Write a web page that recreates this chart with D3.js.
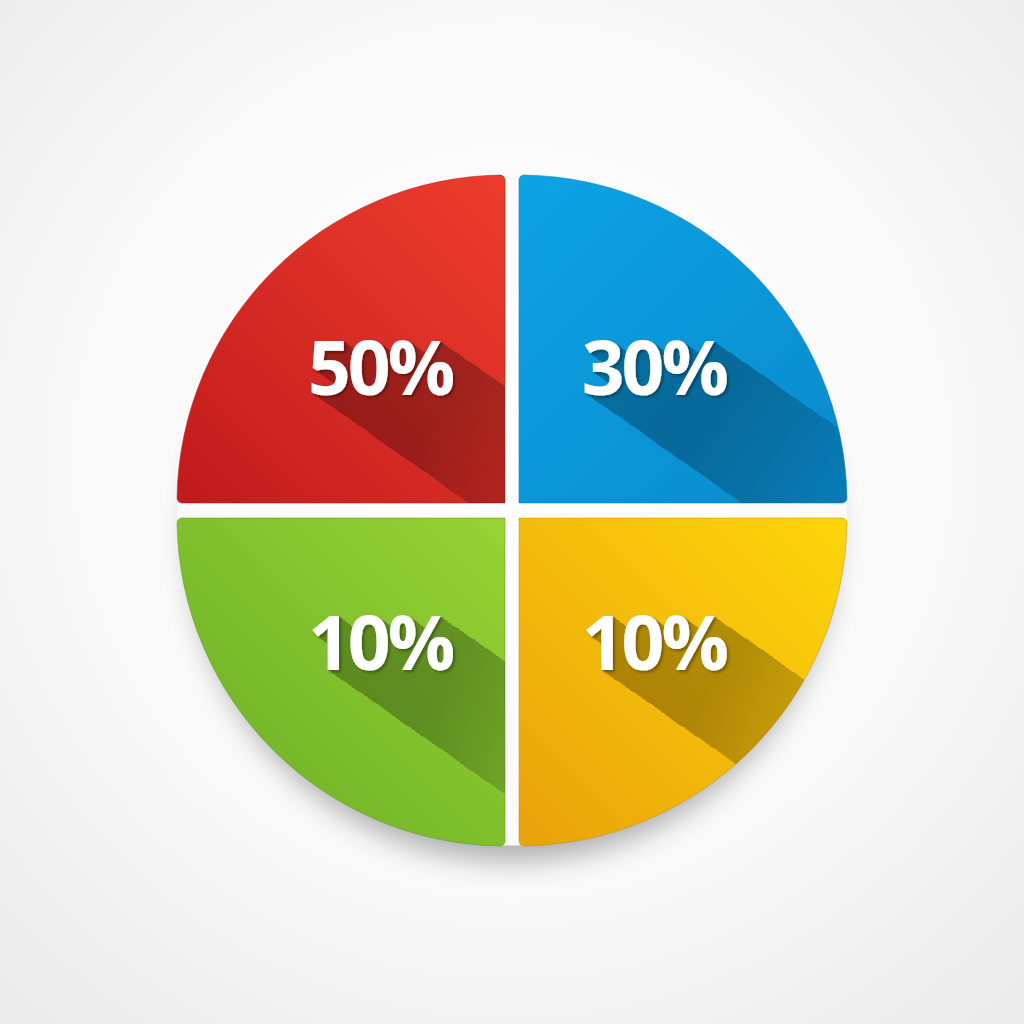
<!DOCTYPE html>
<html>
<head>
<meta charset="utf-8">
<script src="https://cdn.jsdelivr.net/npm/d3@7"></script>
<style>
  html, body { margin: 0; padding: 0; background: #f4f4f4; }
  svg { display: block; }
</style>
</head>
<body>
<div id="chart"></div>
<script>
// quadrants go clockwise starting at the top-left one
const quadrants = ['top-left', 'top-right', 'bottom-right', 'bottom-left']
const shares = [50, 30, 10, 10]
const labels = ['50%', '30%', '10%', '10%']

// [light, dark] per quadrant
const palette = [
  ['#ee3d2d', '#c11a1d'],
  ['#0ca3e4', '#0a8acd'],
  ['#fed60b', '#e9a20b'],
  ['#97d334', '#68ad25']
]
// gradient direction (light corner -> dark corner) in bounding box units
const gradDir = [
  [1, 0, 0, 1],
  [0, 0, 1, 1],
  [1, 0, 0, 1],
  [1, 0, 0, 1]
]

const width = 1024
const height = 1024
const cx = 512
const cy = 510.5
const radius = 328
const gapX = 7
const gapY = 7.5
const shadowDir = [1, 0.7]
const fadeLen = 190

const svg = d3.select('#chart').append('svg')
  .attr('width', width)
  .attr('height', height)

const defs = svg.append('defs')

// background
const bg = defs.append('radialGradient')
  .attr('id', 'bg')
  .attr('cx', '50%').attr('cy', '45%').attr('r', '75%')
bg.append('stop').attr('offset', '0%').attr('stop-color', '#ffffff')
bg.append('stop').attr('offset', '60%').attr('stop-color', '#f8f8f8')
bg.append('stop').attr('offset', '100%').attr('stop-color', '#e9e9e9')
svg.append('rect')
  .attr('width', width).attr('height', height)
  .attr('fill', 'url(#bg)')

defs.append('filter')
  .attr('id', 'blur')
  .attr('x', '-30%').attr('y', '-30%').attr('width', '160%').attr('height', '160%')
  .append('feGaussianBlur')
  .attr('stdDeviation', 14)

// keep the ground shadow outside of the pie (gaps stay white)
const groundMask = defs.append('mask')
  .attr('id', 'groundMask')
  .attr('maskUnits', 'userSpaceOnUse')
  .attr('x', 0).attr('y', 0).attr('width', width).attr('height', height)
groundMask.append('rect').attr('width', width).attr('height', height).attr('fill', '#fff')
groundMask.append('circle')
  .attr('cx', cx).attr('cy', cy).attr('r', radius + 7)
  .attr('fill', '#000')

svg.append('circle')
  .attr('cx', cx)
  .attr('cy', cy + 28)
  .attr('r', radius - 6)
  .attr('fill', '#000')
  .attr('opacity', 0.3)
  .attr('filter', 'url(#blur)')
  .attr('mask', 'url(#groundMask)')

// long shadow + small drop shadow for the labels, built by doubling offsets
const ls = defs.append('filter')
  .attr('id', 'longShadow')
  .attr('filterUnits', 'userSpaceOnUse')
  .attr('x', 0).attr('y', 0).attr('width', width).attr('height', height)
let prev = 'SourceAlpha'
for (let k = 0; k < 8; k++) {
  const step = Math.pow(2, k)
  ls.append('feOffset')
    .attr('in', prev)
    .attr('dx', step * shadowDir[0])
    .attr('dy', step * shadowDir[1])
    .attr('result', 'o' + k)
  const m = ls.append('feMerge').attr('result', 'm' + k)
  m.append('feMergeNode').attr('in', prev)
  m.append('feMergeNode').attr('in', 'o' + k)
  prev = 'm' + k
}
ls.append('feFlood').attr('flood-color', '#000').attr('flood-opacity', 0.28).attr('result', 'lsColor')
ls.append('feComposite').attr('in', 'lsColor').attr('in2', prev).attr('operator', 'in').attr('result', 'long')
ls.append('feGaussianBlur').attr('in', 'SourceAlpha').attr('stdDeviation', 1.5).attr('result', 'b')
ls.append('feOffset').attr('in', 'b').attr('dx', 1.5).attr('dy', 2).attr('result', 'bo')
ls.append('feFlood').attr('flood-color', '#000').attr('flood-opacity', 0.35).attr('result', 'dsColor')
ls.append('feComposite').attr('in', 'dsColor').attr('in2', 'bo').attr('operator', 'in').attr('result', 'drop')
const lm = ls.append('feMerge')
lm.append('feMergeNode').attr('in', 'long')
lm.append('feMergeNode').attr('in', 'drop')
lm.append('feMergeNode').attr('in', 'SourceGraphic')

const pie = d3.pie()
  .value(() => 1) // the picture draws every share as an equal quarter
  .sort(null)
  .startAngle(-Math.PI / 2)
  .endAngle(1.5 * Math.PI)

const arc = d3.arc()
  .innerRadius(0)
  .outerRadius(radius)
  .cornerRadius(5)

const labelArc = d3.arc()
  .innerRadius(0)
  .outerRadius(radius * 1.12)

const slices = pie(shares.map((v, i) => ({ value: v, label: labels[i], quadrant: quadrants[i], i })))

function offset (d) {
  const a = (d.startAngle + d.endAngle) / 2
  return [Math.sign(Math.sin(a)) * gapX, -Math.sign(Math.cos(a)) * gapY]
}

const labelPos = d => {
  const [ox, oy] = offset(d)
  const [lx, ly] = labelArc.centroid(d)
  return [cx + ox + lx + 5, cy + oy + ly + 22]
}

slices.forEach(d => {
  const i = d.data.i
  const g = defs.append('linearGradient')
    .attr('id', 'grad' + i)
    .attr('x1', gradDir[i][0]).attr('y1', gradDir[i][1])
    .attr('x2', gradDir[i][2]).attr('y2', gradDir[i][3])
  g.append('stop').attr('offset', '0%').attr('stop-color', palette[i][0])
  g.append('stop').attr('offset', '100%').attr('stop-color', palette[i][1])

  const [ox, oy] = offset(d)
  defs.append('clipPath')
    .attr('id', 'clip' + i)
    .append('path')
    .attr('d', arc(d))
    .attr('transform', `translate(${cx + ox},${cy + oy})`)

  // fade the long shadow away from the label; the label sits before the start stop
  const [tx, ty] = labelPos(d)
  const sx = tx + 72
  const sy = ty
  const fade = defs.append('linearGradient')
    .attr('id', 'fade' + i)
    .attr('gradientUnits', 'userSpaceOnUse')
    .attr('x1', sx).attr('y1', sy)
    .attr('x2', sx + shadowDir[0] * fadeLen).attr('y2', sy + shadowDir[1] * fadeLen)
  fade.append('stop').attr('offset', '0%').attr('stop-color', '#fff')
  fade.append('stop').attr('offset', '35%').attr('stop-color', '#fff').attr('stop-opacity', 0.7)
  fade.append('stop').attr('offset', '100%').attr('stop-color', '#fff').attr('stop-opacity', 0)
  defs.append('mask')
    .attr('id', 'mask' + i)
    .attr('maskUnits', 'userSpaceOnUse')
    .attr('x', 0).attr('y', 0).attr('width', width).attr('height', height)
    .append('rect')
    .attr('width', width).attr('height', height)
    .attr('fill', 'url(#fade' + i + ')')
})

const quad = svg.selectAll('g.quadrant')
  .data(slices)
  .join('g')
  .attr('class', 'quadrant')

quad.append('path')
  .attr('d', arc)
  .attr('transform', d => {
    const [ox, oy] = offset(d)
    return `translate(${cx + ox},${cy + oy})`
  })
  .attr('fill', d => `url(#grad${d.data.i})`)
  .attr('stroke', d => d3.color(palette[d.data.i][1]).darker(0.4))
  .attr('stroke-opacity', 0.5)
  .attr('stroke-width', 1)

quad.append('g')
  .attr('clip-path', d => `url(#clip${d.data.i})`)
  .append('g')
  .attr('mask', d => `url(#mask${d.data.i})`)
  .append('text')
  .attr('text-anchor', 'middle')
  .attr('font-family', '"Open Sans", "DejaVu Sans", sans-serif')
  .attr('font-weight', 700)
  .attr('font-size', 75)
  .attr('letter-spacing', -3)
  .attr('x', d => labelPos(d)[0])
  .attr('y', d => labelPos(d)[1])
  .attr('fill', '#fff')
  .attr('filter', 'url(#longShadow)')
  .text(d => d.data.label)
</script>
</body>
</html>
